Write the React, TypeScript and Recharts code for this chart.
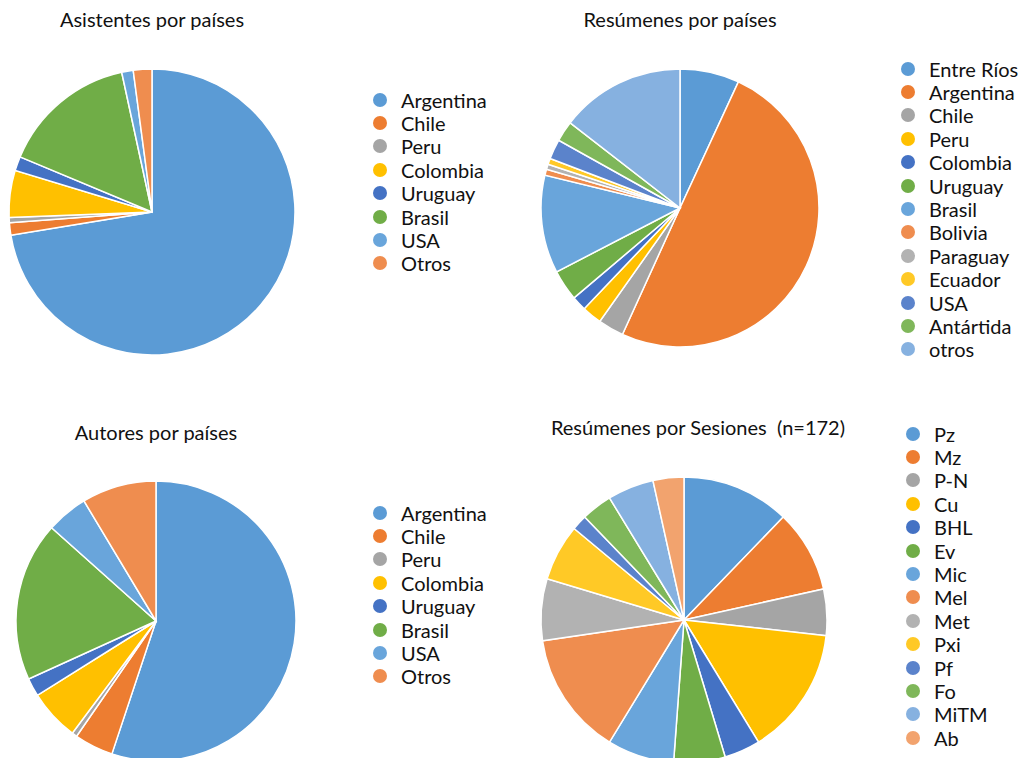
import React from 'react';
import { PieChart, Pie, Cell } from 'recharts';

// Office-like palette (first 6 accents, then lighter tints)
const PALETTE = [
  '#5B9BD5', '#ED7D31', '#A5A5A5', '#FFC000', '#4472C4', '#70AD47',
  '#69A5DB', '#EF8D4F', '#B2B2B2', '#FFC926', '#5B83CB', '#7FB75A',
  '#86B1E0', '#F2A36E',
];

const FONT = 'Lato, "Open Sans", sans-serif';

// Asistentes por países (%)
const asistentesNames = ['Argentina', 'Chile', 'Peru', 'Colombia', 'Uruguay', 'Brasil', 'USA', 'Otros'];
const asistentesValues = [72.4, 1.4, 0.6, 5.3, 1.6, 15.3, 1.3, 2.1];

// Resúmenes por países (%)
const resumenesNames = ['Entre Ríos', 'Argentina', 'Chile', 'Peru', 'Colombia', 'Uruguay', 'Brasil', 'Bolivia', 'Paraguay', 'Ecuador', 'USA', 'Antártida', 'otros'];
const resumenesValues = [6.9, 49.9, 3.0, 2.3, 1.7, 3.6, 11.4, 0.7, 0.6, 0.7, 2.3, 2.4, 14.5];

// Autores por países (%)
const autoresNames = ['Argentina', 'Chile', 'Peru', 'Colombia', 'Uruguay', 'Brasil', 'USA', 'Otros'];
const autoresValues = [55.1, 4.5, 0.6, 5.9, 2.1, 18.4, 4.8, 8.6];

// Resúmenes por sesiones (n=172)
const sesionesNames = ['Pz', 'Mz', 'P-N', 'Cu', 'BHL', 'Ev', 'Mic', 'Mel', 'Met', 'Pxi', 'Pf', 'Fo', 'MiTM', 'Ab'];
const sesionesValues = [21, 16, 9, 25, 7, 10, 13, 24, 12, 11, 3, 6, 9, 6];

const toRows = (names: string[], values: number[]) =>
  names.map((name, i) => ({ name, value: values[i] }));

// legend kept in series order (recharts Legend sorts by name)
const LegendList = ({ names, rowH }: { names: string[]; rowH: number }) => (
  <div style={{ fontFamily: FONT, fontSize: 20, color: '#111' }}>
    {names.map((n, i) => (
      <div key={n} style={{ display: 'flex', alignItems: 'center', height: rowH }}>
        <span
          style={{
            width: 14,
            height: 14,
            borderRadius: '50%',
            background: PALETTE[i],
            marginRight: 14,
            flex: 'none',
          }}
        />
        <span>{n}</span>
      </div>
    ))}
  </div>
);

interface PanelProps {
  title: string;
  names: string[];
  values: number[];
  left: number;
  top: number;
  cx: number;
  cy: number;
  r: number;
  titleX: number;
  titleY: number;
  legendX: number;
  legendY: number;
}

function PiePanel(p: PanelProps) {
  const data = toRows(p.names, p.values);
  return (
    <div style={{ position: 'absolute', left: p.left, top: p.top, width: 511, height: 379 }}>
      <div
        style={{
          position: 'absolute',
          left: p.titleX - 200,
          top: p.titleY,
          width: 400,
          textAlign: 'center',
          fontFamily: FONT,
          fontSize: 20,
          color: '#111',
          whiteSpace: 'pre',
        }}
      >
        {p.title}
      </div>
      <div style={{ position: 'absolute', left: 0, top: 0 }}>
        <PieChart width={511} height={379} margin={{ top: 0, right: 0, bottom: 0, left: 0 }}>
          <Pie
            data={data}
            dataKey="value"
            nameKey="name"
            cx={p.cx}
            cy={p.cy}
            outerRadius={p.r}
            startAngle={90}
            endAngle={-270}
            stroke="#ffffff"
            strokeWidth={1.5}
            isAnimationActive={false}
          >
            {data.map((d, i) => (
              <Cell key={d.name} fill={PALETTE[i]} />
            ))}
          </Pie>
        </PieChart>
      </div>
      <div style={{ position: 'absolute', left: p.legendX, top: p.legendY }}>
        <LegendList names={p.names} rowH={23.4} />
      </div>
    </div>
  );
}

export default function App() {
  return (
    <div style={{ position: 'absolute', left: 0, top: 0, width: 1023, height: 758, background: '#fff', overflow: 'hidden' }}>
      <PiePanel
        title="Asistentes por países"
        names={asistentesNames}
        values={asistentesValues}
        left={0} top={0}
        cx={152} cy={212} r={143}
        titleX={152} titleY={7}
        legendX={373} legendY={88}
      />
      <PiePanel
        title="Resúmenes por países"
        names={resumenesNames}
        values={resumenesValues}
        left={512} top={0}
        cx={168} cy={208} r={139}
        titleX={168} titleY={7}
        legendX={389} legendY={57}
      />
      <PiePanel
        title="Autores por países"
        names={autoresNames}
        values={autoresValues}
        left={0} top={379}
        cx={156} cy={242} r={140}
        titleX={156} titleY={41}
        legendX={373} legendY={122}
      />
      <PiePanel
        title="Resúmenes por Sesiones  (n=172)"
        names={sesionesNames}
        values={sesionesValues}
        left={512} top={379}
        cx={172} cy={241} r={143}
        titleX={186} titleY={36}
        legendX={394} legendY={43}
      />
    </div>
  );
}
